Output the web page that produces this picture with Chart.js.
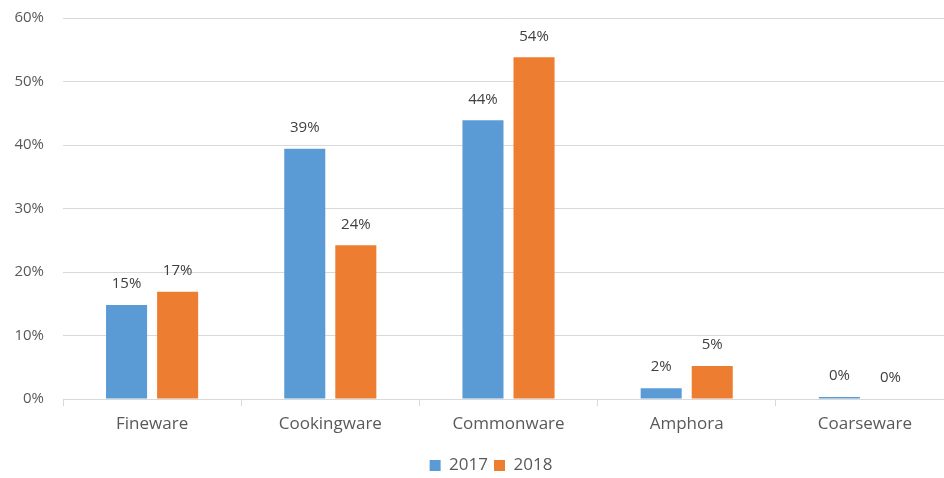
<!DOCTYPE html>
<html>
<head>
<meta charset="utf-8">
<script src="https://cdn.jsdelivr.net/npm/chart.js@4"></script>
<style>
  html, body { margin: 0; padding: 0; background: #fff; overflow: hidden; }
  #wrap { width: 954px; height: 478px; position: relative; }
</style>
</head>
<body>
<div id="wrap"><canvas id="c"></canvas></div>
<script>
// Share of ware types per excavation season (percent)
const categories = ['Fineware', 'Cookingware', 'Commonware', 'Amphora', 'Coarseware'];
const share2017 = [14.8, 39.4, 43.9, 1.7, 0.3];
const share2018 = [16.9, 24.2, 53.8, 5.2, 0.0];
const seriesNames = ['2017', '2018'];
const seriesColors = ['#5b9bd5', '#ed7d31'];

const FONT = '"Open Sans", "Noto Sans", sans-serif';

// Writes the rounded percentage above each bar
const valueLabels = {
  id: 'valueLabels',
  afterDatasetsDraw(chart) {
    const ctx = chart.ctx;
    ctx.save();
    ctx.font = '15px ' + FONT;
    ctx.fillStyle = '#404040';
    ctx.textAlign = 'center';
    ctx.textBaseline = 'middle';
    chart.data.datasets.forEach((ds, i) => {
      chart.getDatasetMeta(i).data.forEach((bar, j) => {
        ctx.fillText(Math.round(ds.data[j]) + '%', bar.x, bar.y - 21);
      });
    });
    ctx.restore();
  }
};

// Nudges the legend so it sits centred under the plot area
const legendUnderPlot = {
  id: 'legendUnderPlot',
  afterLayout(chart) {
    const lg = chart.legend;
    if (!lg) return;
    lg.left += 14;
    lg.right += 14;
    lg.top += 6;
    lg.bottom += 6;
  }
};

new Chart(document.getElementById('c'), {
  type: 'bar',
  data: {
    labels: categories,
    datasets: [
      { label: seriesNames[0], data: share2017, backgroundColor: seriesColors[0] },
      { label: seriesNames[1], data: share2018, backgroundColor: seriesColors[1] }
    ]
  },
  options: {
    responsive: true,
    maintainAspectRatio: false,
    animation: false,
    layout: { padding: { top: 18, right: 0, left: 0, bottom: 0 } },
    datasets: { bar: { categoryPercentage: 0.573, barPercentage: 0.804 } },
    plugins: {
      legend: {
        position: 'bottom',
        labels: {
          boxWidth: 11, boxHeight: 11, color: '#595959',
          font: { family: FONT, size: 17 }, padding: 6
        }
      },
      tooltip: { enabled: false }
    },
    scales: {
      x: {
        grid: { display: true, drawOnChartArea: false, offset: true, tickLength: 7, color: '#d9d9d9' },
        border: { color: '#d9d9d9' },
        ticks: { color: '#595959', font: { family: FONT, size: 17 }, padding: 8 },
        afterFit(scale) { scale.height = 46; }
      },
      y: {
        min: 0, max: 60,
        grid: { color: '#d9d9d9', drawTicks: false },
        border: { display: false },
        ticks: {
          stepSize: 10, color: '#595959', font: { family: FONT, size: 15 }, padding: 19,
          callback: v => v + '%'
        },
        afterFit(scale) {
          scale.width = 63;
          scale.paddingTop = 0;
          scale.paddingBottom = 0;
        }
      }
    }
  },
  plugins: [valueLabels, legendUnderPlot]
});
</script>
</body>
</html>
